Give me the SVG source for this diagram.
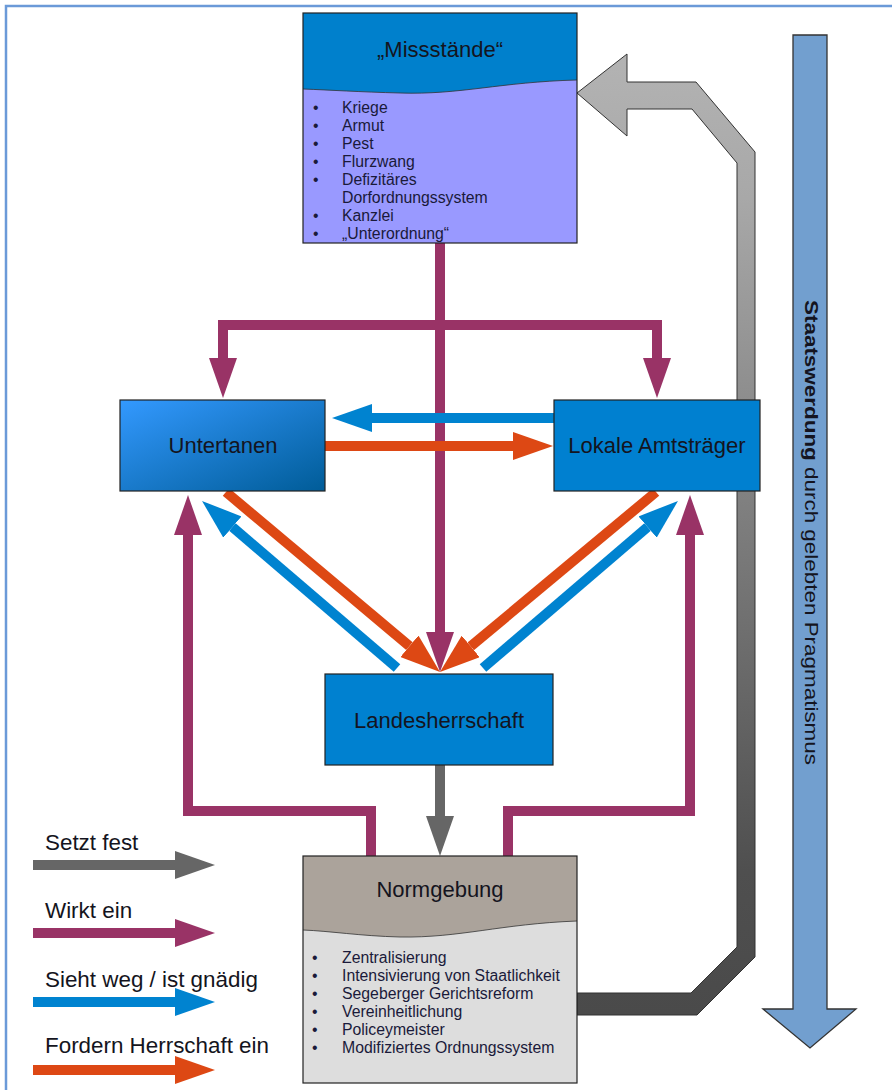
<svg xmlns="http://www.w3.org/2000/svg" width="892" height="1090" viewBox="0 0 892 1090">
<style>
.t{font-family:"Liberation Sans",Arial,sans-serif;fill:#141420}
.title{font-size:22px;text-anchor:middle}
.li{font-size:15.8px;fill:#1a1a3a}
.leg{font-size:22.4px}
.box{stroke:#222;stroke-width:1.2}
.ln{fill:none;stroke-width:10;stroke-linejoin:miter}
.gr{stroke:#666666}
.pu{stroke:#993366}
.bl{stroke:#0083d0}
.or{stroke:#dd4814}
</style>
<defs>
<linearGradient id="gU" x1="0" y1="0" x2="1" y2="1">
<stop offset="0" stop-color="#3399ff"/>
<stop offset="1" stop-color="#005c98"/>
</linearGradient>
<linearGradient id="gG" gradientUnits="userSpaceOnUse" x1="0" y1="54" x2="0" y2="1015">
<stop offset="0" stop-color="#b3b3b3"/>
<stop offset="0.15" stop-color="#a8a8a8"/>
<stop offset="0.85" stop-color="#4f4f4f"/>
<stop offset="1" stop-color="#4a4a4a"/>
</linearGradient>
<marker id="mGr" markerUnits="userSpaceOnUse" markerWidth="40" markerHeight="28" refX="0" refY="14" orient="auto-start-reverse"><path d="M0,0 L40,14 L0,28 Z" fill="#666666"/></marker>
<marker id="mPu" markerUnits="userSpaceOnUse" markerWidth="40" markerHeight="28" refX="0" refY="14" orient="auto-start-reverse"><path d="M0,0 L40,14 L0,28 Z" fill="#993366"/></marker>
<marker id="mBl" markerUnits="userSpaceOnUse" markerWidth="40" markerHeight="28" refX="0" refY="14" orient="auto-start-reverse"><path d="M0,0 L40,14 L0,28 Z" fill="#0083d0"/></marker>
<marker id="mOr" markerUnits="userSpaceOnUse" markerWidth="40" markerHeight="28" refX="0" refY="14" orient="auto-start-reverse"><path d="M0,0 L40,14 L0,28 Z" fill="#dd4814"/></marker>
</defs>
<rect width="892" height="1090" fill="#ffffff"/>
<path d="M6,1090 V6 H892" fill="none" stroke="#6b9ad8" stroke-width="2.5"/>

<g id="staatswerdung">
<polygon points="793,35 827,35 827,1009 856,1009 810,1048 763,1009 793,1009" fill="#729fcf" stroke="#333" stroke-width="1.3"/>
<text class="t" font-size="18" transform="translate(805,300) rotate(90)" textLength="465" lengthAdjust="spacingAndGlyphs"><tspan font-weight="bold">Staatswerdung</tspan> durch gelebten Pragmatismus</text>
</g>

<g id="connectors">
<polygon id="feedback" points="577,93 627,54 627,82 696,82 755,152 755,957 697,1015 577,1015 577,993 691,993 737,947 737,163 692,109 627,109 627,136" fill="url(#gG)" stroke="#333" stroke-width="1"/>
<path class="ln pu" d="M440,243 V632" marker-end="url(#mPu)"/>
<path class="ln pu" d="M223,358 V325 H657 V358" marker-start="url(#mPu)" marker-end="url(#mPu)"/>
<path class="ln pu" d="M371,856 V811 H188 V535" marker-end="url(#mPu)"/>
<path class="ln pu" d="M508,856 V811 H690 V535" marker-end="url(#mPu)"/>
<path class="ln gr" d="M440,765 V816" marker-end="url(#mGr)"/>
<path class="ln bl" d="M554,418 H372" marker-end="url(#mBl)"/>
<path class="ln or" d="M325,446 H513" marker-end="url(#mOr)"/>
<path class="ln or" d="M226,492 L409.4,646.2" marker-end="url(#mOr)"/>
<path class="ln or" d="M656,492 L470.7,646.4" marker-end="url(#mOr)"/>
<path class="ln bl" d="M397,668 L232.4,527" marker-end="url(#mBl)"/>
<path class="ln bl" d="M483,668 L647.6,527" marker-end="url(#mBl)"/>
</g>

<g id="missstaende">
<rect x="303" y="13" width="274" height="230" fill="#9999ff"/>
<path d="M303,13 H577 V80 C500,82 460,95 400,93 C360,92 330,90 303,89 Z" fill="#0080cc"/>
<path d="M577,80 C500,82 460,95 400,93 C360,92 330,90 303,89" fill="none" stroke="#333" stroke-width="0.8"/>
<rect class="box" x="303" y="13" width="274" height="230" fill="none"/>
<text class="t title" x="440" y="57">„Missstände“</text>
<g class="t li">
<text x="313" y="113">•</text><text x="342" y="113">Kriege</text>
<text x="313" y="131">•</text><text x="342" y="131">Armut</text>
<text x="313" y="149">•</text><text x="342" y="149">Pest</text>
<text x="313" y="167">•</text><text x="342" y="167">Flurzwang</text>
<text x="313" y="185">•</text><text x="342" y="185">Defizitäres</text>
<text x="342" y="203">Dorfordnungssystem</text>
<text x="313" y="221">•</text><text x="342" y="221">Kanzlei</text>
<text x="313" y="239">•</text><text x="342" y="239">„Unterordnung“</text>
</g>
</g>

<g id="untertanen">
<rect class="box" x="120" y="400" width="205" height="91" fill="url(#gU)"/>
<text class="t title" x="223" y="453">Untertanen</text>
</g>

<g id="amtstraeger">
<rect class="box" x="554" y="400" width="206" height="91" fill="#0080d0"/>
<text class="t title" x="657" y="453">Lokale Amtsträger</text>
</g>

<g id="landesherrschaft">
<rect class="box" x="325" y="674" width="228" height="91" fill="#0081d0"/>
<text class="t title" x="439" y="728">Landesherrschaft</text>
</g>

<g id="normgebung">
<rect x="303" y="856" width="274" height="227" fill="#dddddd"/>
<path d="M303,856 H577 V921 C500,924 460,938 400,937 C360,936 330,931 303,930 Z" fill="#aba39b"/>
<path d="M577,921 C500,924 460,938 400,937 C360,936 330,931 303,930" fill="none" stroke="#333" stroke-width="0.8"/>
<rect class="box" x="303" y="856" width="274" height="227" fill="none"/>
<text class="t title" x="440" y="897">Normgebung</text>
<g class="t li">
<text x="312" y="963">•</text><text x="342" y="963">Zentralisierung</text>
<text x="312" y="981">•</text><text x="342" y="981">Intensivierung von Staatlichkeit</text>
<text x="312" y="999">•</text><text x="342" y="999">Segeberger Gerichtsreform</text>
<text x="312" y="1017">•</text><text x="342" y="1017">Vereinheitlichung</text>
<text x="312" y="1035">•</text><text x="342" y="1035">Policeymeister</text>
<text x="312" y="1053">•</text><text x="342" y="1053">Modifiziertes Ordnungssystem</text>
</g>
</g>

<g id="legend">
<text class="t leg" x="45" y="850">Setzt fest</text>
<path class="ln gr" d="M33,865 H175" marker-end="url(#mGr)"/>
<text class="t leg" x="45" y="918">Wirkt ein</text>
<path class="ln pu" d="M33,933 H175" marker-end="url(#mPu)"/>
<text class="t leg" x="45" y="987">Sieht weg / ist gnädig</text>
<path class="ln bl" d="M33,1002 H175" marker-end="url(#mBl)"/>
<text class="t leg" x="45" y="1053">Fordern Herrschaft ein</text>
<path class="ln or" d="M33,1070 H175" marker-end="url(#mOr)"/>
</g>
</svg>
